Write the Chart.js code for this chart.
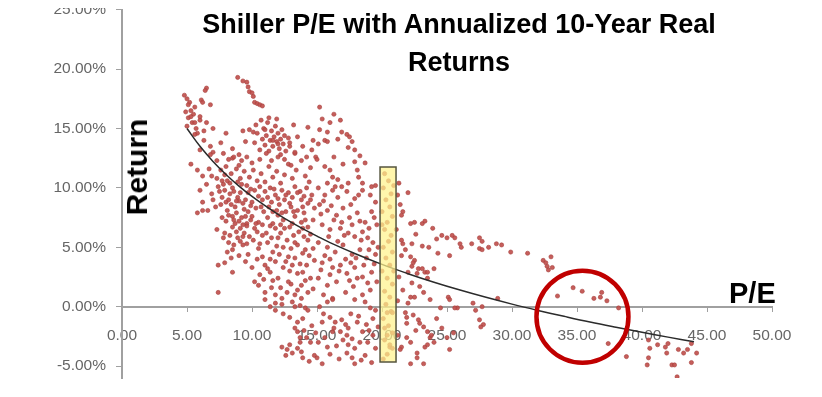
<!DOCTYPE html>
<html>
<head>
<meta charset="utf-8">
<script src="https://cdn.jsdelivr.net/npm/chart.js@4.4.1/dist/chart.umd.min.js"></script>
<style>
  html, body { margin: 0; padding: 0; background: #fff; }
  body { width: 822px; height: 397px; position: relative; overflow: hidden; font-family: "Liberation Sans", Arial, sans-serif; }
  #clip { position: absolute; left: 0; top: 8px; width: 822px; height: 389px; overflow: hidden; }
  #box { position: absolute; left: 0; top: -8px; width: 822px; height: 397px; }
  .label { position: absolute; font-weight: bold; color: #000; white-space: nowrap; z-index: 2; }
  #title { left: 159px; top: 4.6px; width: 600px; text-align: center; font-size: 27px; line-height: 38px; }
  #yLabel { left: 137px; top: 167px; font-size: 30px; line-height: 30px; transform: translate(-50%, -50%) rotate(-90deg); }
  #xLabel { left: 729px; top: 278.5px; font-size: 29px; line-height: 29px; }
</style>
</head>
<body>
<div id="clip"><div id="box"><canvas id="chart"></canvas></div></div>
<div id="title" class="label">Shiller P/E with Annualized 10-Year Real<br>Returns</div>
<div id="yLabel" class="label">Return</div>
<div id="xLabel" class="label">P/E</div>
<script>
// axis ticks
const xTicks = [0, 5, 10, 15, 20, 25, 30, 35, 40, 45, 50];
const yTicks = [-5, 0, 5, 10, 15, 20, 25];

// [P/E, annualized 10-year real return %]
const lowPePoints = [
  [4.8,17.8],[5.0,17.5],[5.2,17.2],[5.1,17.0],[5.6,16.8],[4.9,16.4],[5.3,16.5],[5.5,16.2],[5.1,15.9],[5.4,15.5],
  [5.0,15.2],[5.7,15.0],[6.0,15.7],[5.8,14.6],[5.3,16.0],[5.6,15.5],[6.5,18.4],[6.4,18.2],[6.1,17.4],[6.2,17.2],
  [6.8,17.0],[6.0,16.0],[6.5,15.5],[7.0,15.0],[6.3,14.8],[5.6,14.5],[6.3,14.0],[6.8,13.5],[6.0,13.2],[7.0,13.0],
  [5.3,12.0],[5.8,11.5],[6.2,11.0],[6.8,12.8],[7.3,12.3],[7.6,11.5],[6.9,11.0],[7.7,10.6],[6.0,9.8],[6.5,10.3],
  [6.9,9.5],[7.3,10.8],[6.7,11.6],[7.0,9.0],[7.5,9.7],[5.8,7.9],[6.2,8.1],[6.6,8.1],[7.2,8.4],[6.2,8.8],
  [7.3,6.5],[7.4,3.5],[7.9,3.7],[8.5,2.9],[7.4,1.2],
  [8.9,19.3],[9.3,19.0],[9.6,18.9],[9.7,18.5],[9.8,18.1],[10.0,18.0],[10.1,17.7],[10.2,17.2],[10.4,17.1],[10.6,17.0],[10.8,16.9],
  [8.0,14.6],[8.5,13.3],[9.0,12.8],[9.5,13.9],[8.2,12.4],[9.3,14.8],[7.6,13.8],[8.5,12.5],[10.1,14.7],[9.8,14.9],
  [8.0,11.8],[8.4,11.2],[8.8,11.6],[9.1,10.8],[9.4,11.4],[9.8,10.9],[9.2,12.3],[8.6,12.6],[7.8,12.9],[8.3,10.4],
  [8.9,10.5],[9.6,10.2],[7.4,10.1],[7.9,9.8],[8.5,10.0],[9.2,10.3],[9.7,9.6],[7.7,9.2],[8.9,9.2],[8.1,8.1],
  [8.5,7.6],[8.8,7.9],[9.2,7.5],[9.6,7.0],[8.5,6.7],[9.1,6.6],[7.9,6.2],[8.2,5.4],[8.5,4.8],[8.9,5.8],
  [9.3,5.2],[9.7,4.4],[9.5,3.8],[8.0,8.8],[8.3,9.5],[8.7,8.4],[9.0,8.9],[9.4,8.2],[9.9,8.5],[8.0,7.2],
  [8.7,7.0],[9.4,6.2],[9.8,5.9],[9.0,4.3],[9.6,6.8],[8.3,6.0],[7.7,7.5],[9.9,9.9],[8.1,10.6],[9.5,9.0],[9.3,5.9],
  [7.6,8.6],[7.8,10.3],[8.2,9.0],[8.4,8.6],[8.6,9.7],[8.8,8.9],[9.1,9.6],[9.3,8.7],[9.5,7.6],[9.7,8.0],
  [8.2,7.7],[8.6,7.3],[9.0,7.2],[9.3,6.9],[8.8,6.3],[9.1,5.5],[8.6,5.2],[7.8,5.8],[8.1,4.6],[9.9,7.3],
  [9.6,5.3],[8.4,4.1],[7.9,11.1],[9.0,11.9],[9.6,12.6]
];

const midPePoints = [
  [10.2,13.8],[10.4,14.6],[10.6,13.2],[10.8,14.1],[10.9,15.0],[11.0,13.6],[11.1,14.4],[11.2,15.5],[11.3,13.1],[11.4,14.0],
  [11.5,14.8],[11.6,13.5],[11.7,14.3],[11.8,15.2],[11.9,13.9],[12.0,14.6],[12.1,13.3],[12.2,14.1],[12.3,14.9],[12.4,13.7],
  [12.5,14.4],[12.6,13.1],[11.3,15.9],[10.7,15.7],[11.9,15.8],[12.8,14.2],[12.9,13.5],[10.3,15.3],[11.1,12.9],[12.2,12.8],
  [11.6,14.0],[11.0,14.9],[12.0,13.7],
  [10.1,11.5],[10.4,10.6],[10.7,11.2],[11.0,10.5],[11.3,11.8],[11.6,10.9],[11.9,11.4],[12.2,10.4],[12.5,11.1],[12.8,12.0],
  [13.1,10.8],[13.4,11.5],[13.8,12.3],[14.1,11.0],[14.5,11.7],[14.9,12.6],[10.6,12.4],[12.0,12.6],[13.3,12.9],[10.0,12.1],
  [11.5,12.3],[14.4,10.5],[13.0,11.9],
  [13.2,15.3],[13.5,14.3],[13.9,13.5],[14.3,15.1],[13.3,13.0],[12.9,13.8],[14.2,12.6],[14.7,14.0],[12.5,12.4],
  [15.2,16.8],[15.4,15.8],[16.0,15.5],[16.8,15.7],[16.9,14.7],[17.3,14.5],[17.5,14.3],[17.7,13.9],[17.4,13.4],[15.8,14.7],
  [15.6,14.0],[15.2,14.9],[15.1,13.7],[15.8,13.9],[15.0,12.4],[16.3,16.2],[16.6,14.1],[17.9,13.2],[18.3,12.7],[18.7,12.1],
  [15.6,11.8],[16.0,11.5],[16.2,10.9],[16.6,10.7],[17.4,10.4],[17.9,12.2],[18.1,11.5],[18.2,10.9],[18.5,10.4],[15.8,10.4],
  [16.4,10.1],[16.9,10.1],[19.5,10.2],[19.2,10.1],[16.3,12.6],[17.0,12.0],[14.6,13.2],
  [10.2,9.8],[10.6,10.1],[11.0,9.7],[11.4,10.0],[11.8,9.4],[12.3,9.8],[12.8,9.6],[13.3,10.1],[13.7,9.7],[14.2,10.0],
  [14.6,9.4],[10.0,8.8],[10.8,9.0],[11.5,8.8],[12.5,9.0],[12.9,8.7],[13.8,9.0],[14.3,8.7],
  [10.0,7.6],[10.5,7.1],[10.8,6.9],[11.2,7.5],[11.6,7.0],[12.0,7.7],[12.4,7.3],[12.9,6.7],[13.3,7.6],[13.8,7.1],
  [14.3,6.7],[14.7,7.3],[10.2,6.6],[11.8,6.6],[12.5,6.6],[13.9,6.6],
  [10.1,5.6],[10.5,4.9],[10.8,6.0],[11.2,5.4],[11.6,4.6],[12.0,5.8],[12.4,5.0],[12.8,4.2],[13.2,6.0],[13.5,5.2],
  [13.9,4.5],[14.3,5.6],[14.7,4.9],
  [10.0,3.3],[10.6,2.7],[11.0,3.5],[11.4,2.9],[11.8,3.8],[12.0,2.4],[12.4,3.3],[12.8,2.1],[13.1,3.5],[13.5,2.8],
  [13.8,1.8],[14.2,3.5],[14.5,2.4],[10.5,1.8],[11.0,1.2],[11.5,1.6],[11.8,1.0],[12.3,0.7],[12.7,1.2],[13.3,1.0],
  [13.8,0.7],[14.3,1.2],[10.2,2.1],
  [10.3,8.3],[10.9,8.0],[11.3,8.4],[11.9,8.1],[12.1,8.6],[12.6,8.0],[13.0,8.4],[13.5,8.1],[14.0,7.9],[14.8,8.3],
  [10.4,6.3],[11.1,6.2],[11.5,5.8],[12.2,6.2],[12.7,5.6],[13.0,4.9],[13.6,6.3],[14.0,5.9],[14.5,6.1],[10.8,4.2],
  [11.4,4.0],[12.1,4.4],[12.6,3.8],[13.3,4.1],[13.7,3.6],[14.8,3.9],[10.9,2.3],[11.6,2.2],[12.2,1.6],[13.0,1.9],
  [13.5,1.4],[14.1,2.2],[14.7,1.5],[10.4,4.0],
  [10.5,9.3],[11.2,9.2],[11.7,9.9],[12.0,9.1],[12.6,9.4],[13.1,9.2],[13.5,9.6],[14.0,9.3],[14.5,9.0],[10.7,8.4],
  [11.6,8.0],[12.3,7.9],[13.2,8.0],[13.9,8.4],[10.3,7.0],[11.4,6.8],[12.2,6.9],[13.1,7.0],[14.1,7.3],[10.6,5.3],
  [11.9,5.1],[13.3,5.4],[14.1,4.8],[11.2,3.2],[12.9,3.0],[13.9,2.9],[14.4,4.3],
  [11.0,0.6],[11.8,0.3],[12.3,0.2],[13.1,0.4],[13.3,0.0],[13.7,0.1],[14.1,-0.1],[14.3,-0.3],[11.4,0.0],[11.8,-0.3],
  [12.3,-3.4],[12.7,-3.6],[12.9,-3.2],[13.1,-3.9],[13.5,-3.5],[13.7,-3.0],[13.8,-3.8],[13.9,-4.3],[14.2,-2.6],[14.5,-3.0],
  [13.5,-2.1],[13.7,-2.6],[13.3,-1.8],[13.5,-1.3],[13.9,-1.0],[12.4,-0.6],[12.9,-0.9],[14.6,-1.6],[14.8,-4.1],[14.4,-4.6],
  [12.6,-4.1],[14.0,-2.0],
  [15.1,10.0],[15.6,9.4],[16.2,9.8],[16.6,9.2],[17.3,9.7],[17.9,9.1],[18.5,9.8],[19.1,9.4],[19.5,8.8],[15.2,8.6],
  [15.8,8.1],[16.5,7.7],[17.0,8.3],[17.5,7.5],[18.1,7.9],[18.7,7.1],[19.2,8.0],[19.6,6.9],[15.4,6.9],[16.0,6.5],
  [16.8,6.6],[17.4,6.2],[17.9,5.9],[18.5,6.3],[18.9,5.8],[19.3,5.4],[15.1,5.4],[15.8,5.0],[16.4,4.6],[17.0,5.2],
  [17.7,4.4],[18.3,4.8],[18.8,4.1],[19.5,4.4],[15.4,3.7],[16.2,3.3],[16.8,3.5],[17.3,2.8],[17.9,3.3],[18.5,2.5],
  [19.2,2.9],[19.6,2.1],[15.1,2.4],[15.8,1.8],[16.5,2.1],[17.2,1.2],[17.8,1.7],[18.5,1.0],[19.1,1.4],[15.5,1.0],
  [16.2,0.7],[15.3,7.8],[16.1,8.5],[16.9,7.1],[17.6,8.6],[18.3,7.2],[19.0,6.6],[15.9,5.9],[16.6,5.5],[17.2,4.0],
  [18.0,4.1],[18.6,3.5],[19.4,3.6],[16.0,2.7],[17.5,2.2],[18.9,2.0],[19.7,5.0],[15.6,4.3],[18.2,9.4],
  [15.5,8.9],[16.3,7.3],[17.1,6.0],[17.7,6.9],[18.4,5.6],[19.4,7.5],[16.7,3.0],[18.1,2.4],[15.3,3.1],[17.6,3.7],
  [19.0,4.8],[16.0,4.0],
  [15.2,0.0],[15.8,0.4],[16.2,0.6],[17.9,0.6],[18.7,0.4],[19.1,-0.1],[19.5,-0.3],[16.4,-1.3],[16.9,-1.1],[17.2,-1.5],
  [17.4,-1.8],[16.8,-2.1],[17.3,-2.4],[17.7,-2.7],[17.4,-3.2],[17.9,-3.5],[17.3,-3.9],[17.7,-4.3],[17.9,-4.8],[16.2,-2.1],
  [15.6,-2.6],[15.1,-3.0],[15.0,-4.3],[18.5,-2.1],[18.9,-3.0],[18.7,-4.1],[19.3,-1.0],[19.3,-2.4],[19.5,-3.5],[19.2,-4.7],
  [15.5,-0.6],[16.0,-0.9],[18.2,-0.8],[18.8,-1.5],[16.5,-3.3],[16.0,-4.0],[15.4,-4.8],[19.7,-1.7],[18.1,-1.3],
  [15.4,-1.3],[16.3,-1.8],[17.0,-2.8],[18.3,-3.0],[16.7,-4.4],[18.4,-4.5],[14.9,-2.2],[17.6,-0.6],[15.8,-3.4],[19.0,-2.0],
  [20.2,11.2],[20.5,10.6],[20.1,10.0],[20.7,9.5],[20.3,9.0],[20.6,8.4],[20.0,8.0],[20.8,7.6],[20.4,7.1],[20.2,6.5],
  [20.7,6.0],[20.5,5.5],[20.1,5.0],[20.8,4.6],[20.3,4.1],[20.6,3.5],[20.0,3.0],[20.4,2.4],[20.8,1.9],[20.2,1.3],
  [20.6,0.8],[20.3,0.2],[20.7,-0.4],[20.1,-1.0],[20.5,-1.6],[20.8,-2.2],[20.2,-2.8],[20.6,-3.4],[20.4,-4.0],[20.1,-4.4],
  [20.9,10.2],[20.0,6.9],[20.9,3.0],[20.2,-1.8],[20.4,-2.4],[20.6,-3.2],[20.8,-3.5],[20.4,-0.5],[20.8,-0.5]
];

const highPePoints = [
  [21.2,9.4],[21.4,8.6],[21.6,8.0],[21.5,7.7],[22.2,7.0],[22.5,7.1],[23.1,7.0],[23.3,7.2],[23.9,6.6],[24.6,6.0],
  [24.2,5.7],[25.0,5.8],[25.4,6.0],[21.6,5.3],[22.3,5.3],[23.1,5.1],[24.3,4.5],[25.2,4.3],[21.5,4.3],[22.5,3.9],
  [22.3,3.4],[22.0,2.9],[22.8,3.2],[23.3,2.9],[21.5,5.6],[21.8,4.8],[22.2,4.2],
  [25.6,5.8],[26.0,5.3],[26.1,5.0],[26.9,5.3],[27.7,5.5],[27.5,4.9],[27.7,4.8],[28.2,5.0],[28.8,5.3],[29.2,5.2],
  [29.9,4.6],[31.2,4.5],[32.4,3.9],[32.6,3.7],[32.7,3.4],[33.0,4.2],[32.8,3.1],[33.1,3.3],[27.5,5.8],
  [22.4,3.7],[22.7,2.8],[23.1,3.2],[23.5,2.4],[22.3,2.0],[22.9,1.7],[23.5,2.9],
  [21.6,1.4],[22.2,0.8],[22.0,0.3],[22.5,0.8],[23.2,1.2],[23.7,0.6],[24.5,-0.1],[25.1,0.8],[25.2,0.6],[25.8,-0.1],
  [27.0,0.3],[27.2,-0.3],[27.7,0.0],[27.5,-1.1],[27.8,-1.5],[27.6,-1.7],[28.9,0.7],[25.6,-0.1],
  [21.8,-0.5],[21.9,-0.9],[22.4,-0.7],[22.8,-1.1],[22.9,-1.4],[23.2,-1.7],[23.5,-2.1],[22.6,-2.0],[21.9,-2.6],[22.2,-3.0],
  [22.7,-3.9],[23.3,-3.4],[23.5,-3.2],[23.2,-4.8],[22.2,-4.8],[22.7,-4.3],[23.7,-2.6],[21.5,-3.4],[21.9,-1.4],[23.8,-2.4],
  [24.2,-1.0],[24.6,-1.8],[25.0,-2.6],[25.2,-3.6],[25.5,-2.2],[21.2,-2.4],[21.4,-3.6],[24.0,-3.0],
  [21.3,10.4],[22.0,9.6],[21.1,6.5],[21.3,2.5],[21.2,0.5],[22.6,6.1],[23.6,5.0],[24.0,3.2],
  [33.5,0.9],[34.7,1.6],[35.4,1.3],[36.3,0.7],[36.8,0.8],[36.9,1.2],[37.3,0.5],[38.2,-0.1],[37.4,-3.1],
  [38.8,-4.2],[40.5,-2.8],[40.6,-3.5],[40.5,-4.3],[40.4,-4.9],[41.2,-3.2],[41.8,-3.4],[42.0,-3.1],[41.9,-3.9],[42.3,-4.9],
  [42.5,-4.9],[42.8,-3.6],[43.2,-3.9],[43.5,-3.6],[43.8,-3.1],[43.8,-4.7],[44.2,-3.9],[42.7,-5.9]
];

// logarithmic trend line
const trendPe = [5, 6, 7, 8, 9, 10, 11, 12, 13, 14, 15, 16, 18, 20, 22, 24, 26, 28, 30, 32, 34, 36, 38, 40, 42, 44];
const trendReturn = [15.0, 13.5, 12.23, 11.13, 10.15, 9.28, 8.5, 7.78, 7.12, 6.51, 5.94, 5.4, 4.44, 3.56, 2.78, 2.06, 1.4, 0.79, 0.22, -0.31, -0.81, -1.29, -1.73, -2.15, -2.56, -2.94];

// highlighted P/E band and circled region
const highlightPe = [19.85, 21.08];
const highlightReturn = [-4.66, 11.77];
const circlePe = [35.42];
const circleReturn = [-0.84];

const toXY = p => ({ x: p[0], y: p[1] });
const scatterData = [...lowPePoints, ...midPePoints, ...highPePoints].map(toXY);
const trendData = trendPe.map((v, i) => ({ x: v, y: trendReturn[i] }));
const circleData = circlePe.map((v, i) => ({ x: v, y: circleReturn[i] }));

const axisGray = '#a0a0a0';
const tickFont = { family: '"Liberation Sans", Arial, sans-serif', size: 15.5 };

const bandPlugin = {
  id: 'band',
  afterDatasetsDraw(chart) {
    const { ctx, scales: { x, y } } = chart;
    const x1 = x.getPixelForValue(highlightPe[0]);
    const x2 = x.getPixelForValue(highlightPe[1]);
    const y1 = y.getPixelForValue(highlightReturn[1]);
    const y2 = y.getPixelForValue(highlightReturn[0]);
    ctx.save();
    ctx.fillStyle = 'rgba(255, 243, 140, 0.72)';
    ctx.strokeStyle = '#55553f';
    ctx.lineWidth = 1.5;
    ctx.beginPath();
    ctx.rect(x1, y1, x2 - x1, y2 - y1);
    ctx.fill();
    ctx.stroke();
    ctx.restore();
  }
};

new Chart(document.getElementById('chart'), {
  type: 'scatter',
  data: {
    datasets: [
      {
        data: scatterData,
        order: 3,
        pointRadius: 2.1,
        pointBackgroundColor: 'rgba(192, 80, 77, 0.92)',
        pointBorderColor: '#a8403d',
        pointBorderWidth: 0.6
      },
      {
        type: 'line',
        data: trendData,
        order: 1,
        borderColor: '#2b2b2b',
        borderWidth: 1.5,
        pointRadius: 0,
        tension: 0.4,
        fill: false
      },
      {
        data: circleData,
        order: 0,
        pointRadius: 46,
        pointBackgroundColor: 'rgba(0,0,0,0)',
        pointBorderColor: '#c00000',
        pointBorderWidth: 4.5
      }
    ]
  },
  options: {
    responsive: true,
    maintainAspectRatio: false,
    animation: false,
    events: [],
    layout: { autoPadding: false, padding: { left: 0, right: 50, top: 0, bottom: 19 } },
    plugins: { legend: { display: false }, tooltip: { enabled: false } },
    scales: {
      x: {
        type: 'linear',
        position: { y: 0 },
        min: 0,
        max: 50,
        afterFit: s => { s.height = 0; },
        afterBuildTicks: s => { s.ticks = xTicks.map(v => ({ value: v })); },
        grid: { drawOnChartArea: false, drawTicks: true, tickLength: 4, color: axisGray },
        border: { color: axisGray, width: 2 },
        ticks: { color: '#666', font: tickFont, padding: 15.7, maxRotation: 0, callback: v => v.toFixed(2) }
      },
      y: {
        type: 'linear',
        position: 'left',
        min: -6,
        max: 25,
        afterFit: s => { s.width = 122; s.paddingTop = 9.7; s.paddingBottom = 0; },
        afterBuildTicks: s => { s.ticks = yTicks.map(v => ({ value: v })); },
        grid: { drawOnChartArea: false, drawTicks: true, tickLength: 6, color: axisGray },
        border: { color: axisGray, width: 2 },
        ticks: { color: '#666', font: tickFont, padding: 10, callback: v => v.toFixed(2) + '%' }
      }
    }
  },
  plugins: [bandPlugin]
});
</script>
</body>
</html>
